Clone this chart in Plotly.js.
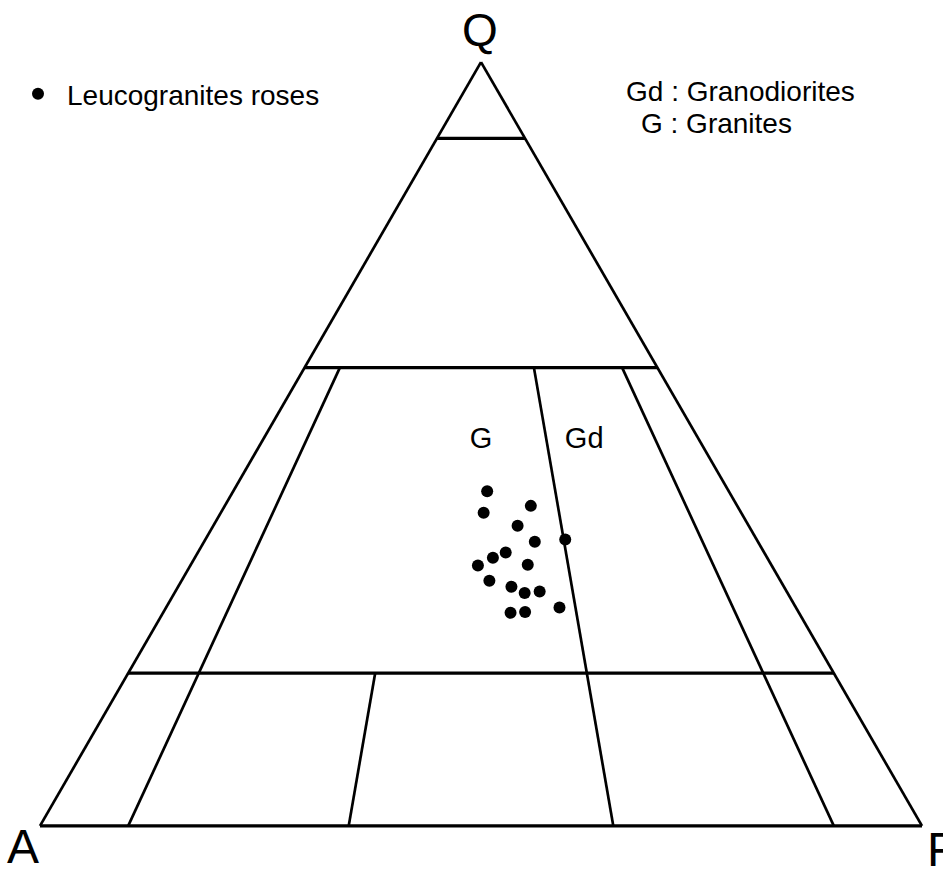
<!DOCTYPE html>
<html>
<head>
<meta charset="utf-8">
<script src="https://cdn.plot.ly/plotly-3.0.1.min.js"></script>
<style>html,body{margin:0;padding:0;background:#fff;}#chart{width:943px;height:874px;}</style>
</head>
<body>
<div id="chart"></div>
<script>
// Horizontal Q boundaries (% Q)
const qLevels = [90, 60, 20];
// Boundaries of constant 100*P/(A+P), drawn from the A-F side up to the given Q level
const ratioValues = [10, 35, 65, 90];
const ratioTops = [60, 20, 60, 60];

// Leucogranites roses: Q, A, F (%)
const sampleQ = [43.8, 41.0, 41.9, 39.3, 37.2, 37.5, 35.8, 35.1, 34.1, 34.2, 32.1, 31.3, 30.5, 30.7, 28.6, 27.9, 28.0];
const sampleA = [27.4, 29.2, 23.4, 26.2, 25.3, 21.7, 29.3, 31.1, 33.3, 27.6, 33.0, 30.9, 29.8, 28.0, 26.8, 32.7, 31.0];
const sampleF = [28.8, 29.8, 34.7, 34.5, 37.5, 40.8, 34.9, 33.8, 32.6, 38.2, 34.9, 37.8, 39.7, 41.3, 44.6, 39.4, 41.0];

const seriesName = 'Leucogranites roses';
const fieldLabels = ['G', 'Gd'];
const fieldLabelQ = [50.4, 50.4];
const fieldLabelF = [24.8, 36.5];
const keyLines = ['Gd : Granodiorites', 'G : Granites'];
const apexLabels = ['Q', 'A', 'F'];

const W = 943, H = 874;
const FONT = '"Liberation Sans", Arial, sans-serif';
const traces = [];

function seg(a, b, c, width) {
  traces.push({type: 'scatterternary', mode: 'lines', a: a, b: b, c: c,
    line: {color: '#000', width: width}, hoverinfo: 'skip', showlegend: false});
}
// horizontal Q boundaries
qLevels.forEach(q => seg([q, q], [100 - q, 0], [0, 100 - q], 3.3));
// ratio boundaries
ratioValues.forEach((r, i) => {
  const qt = ratioTops[i];
  seg([0, qt], [100 * (1 - r / 100), (100 - qt) * (1 - r / 100)], [r, (100 - qt) * r / 100], 2.7);
});
// field labels
traces.push({type: 'scatterternary', mode: 'text', a: fieldLabelQ, c: fieldLabelF,
  b: fieldLabelQ.map((q, i) => 100 - q - fieldLabelF[i]), text: fieldLabels,
  textfont: {family: FONT, size: 29, color: '#000'}, hoverinfo: 'skip', showlegend: false});
// samples
traces.push({type: 'scatterternary', mode: 'markers', name: seriesName,
  a: sampleQ, b: sampleA, c: sampleF, marker: {color: '#000', size: 12}, showlegend: true});

function axisStyle(w) {
  return {showline: true, linecolor: '#000', linewidth: w, showgrid: false, ticks: '',
    showticklabels: false, title: {text: ''}};
}
const layout = {
  width: W, height: H,
  margin: {l: 0, r: 0, t: 0, b: 0},
  paper_bgcolor: '#fff',
  font: {family: FONT, color: '#000'},
  ternary: {
    sum: 100,
    domain: {x: [40 / W, 922 / W], y: [48 / H, 812 / H]},
    bgcolor: 'rgba(0,0,0,0)',
    aaxis: axisStyle(2.7), baxis: axisStyle(3.3), caxis: axisStyle(2.7)
  },
  showlegend: true,
  legend: {x: 9 / W, xanchor: 'left', y: 1 - 94 / H, yanchor: 'middle', itemwidth: 48,
    font: {family: FONT, size: 28, color: '#000'}, bgcolor: 'rgba(0,0,0,0)', borderwidth: 0},
  annotations: [
    {text: apexLabels[0], x: 480 / W, y: 1 - 30 / H, xref: 'paper', yref: 'paper', showarrow: false,
      xanchor: 'center', yanchor: 'middle', font: {family: FONT, size: 46}},
    {text: apexLabels[1], x: 23 / W, y: 0, xref: 'paper', yref: 'paper', showarrow: false,
      xanchor: 'center', yanchor: 'bottom', borderpad: 0, font: {family: FONT, size: 48}},
    {text: apexLabels[2], x: 925 / W, y: 1 - 849 / H, xref: 'paper', yref: 'paper', showarrow: false,
      xanchor: 'left', yanchor: 'middle', font: {family: FONT, size: 48}},
    {text: keyLines[0], x: 624 / W, y: 1 - 91 / H, xref: 'paper', yref: 'paper', showarrow: false,
      xanchor: 'left', yanchor: 'middle', font: {family: FONT, size: 28}},
    {text: keyLines[1], x: 639 / W, y: 1 - 124 / H, xref: 'paper', yref: 'paper', showarrow: false,
      xanchor: 'left', yanchor: 'middle', font: {family: FONT, size: 28}}
  ]
};
Plotly.newPlot('chart', traces, layout, {displayModeBar: false, staticPlot: true});
</script>
</body>
</html>
